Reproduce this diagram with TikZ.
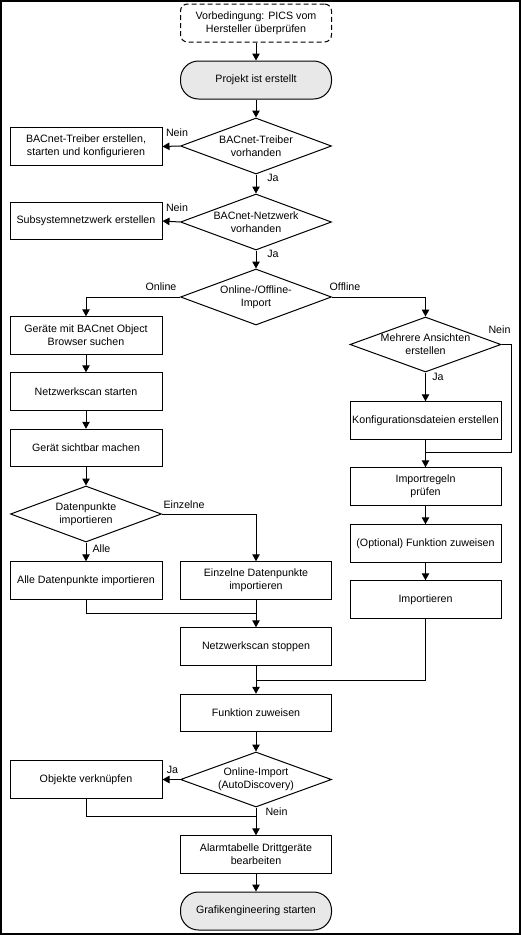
\documentclass[tikz,border=0pt]{standalone}
\usepackage{fontspec}
\setmainfont{Liberation Sans}
\usetikzlibrary{shapes.geometric,arrows.meta}
\definecolor{termgray}{RGB}{232,232,232}
\begin{document}
\begin{tikzpicture}[x=1pt,y=-1pt,
  font=\fontsize{10.67}{13}\selectfont,
  line width=1pt,
  >={Triangle[width=7.5pt,length=7pt]},
  box/.style={draw,rectangle,minimum width=152pt,minimum height=37.5pt,align=center,inner sep=0pt},
  mbox/.style={box,minimum width=151pt},
  dia/.style={draw,diamond,minimum width=151pt,minimum height=56pt,inner sep=0pt},
  txt/.style={align=center,inner sep=0pt},
  lab/.style={inner sep=0pt},
  term/.style={draw,rectangle,rounded corners=18pt,fill=termgray,minimum width=151pt,minimum height=38pt,inner sep=0pt},
  prebox/.style={draw,rectangle,dash pattern=on 5pt off 3pt,rounded corners=7pt,minimum width=151pt,minimum height=38pt,align=center,inner sep=0pt}
]
\useasboundingbox (0,0) rectangle (521,935);
\draw[line width=2pt] (1,1) rectangle (520,934);

% middle column
\node[prebox] (pre) at (256,23) {Vorbedingung: PICS vom\\Hersteller überprüfen};
\node[term] (start) at (256,80) {Projekt ist erstellt};
\node[dia] (d1) at (256,146) {};
\node[txt] (d1t) at (256,146) {BACnet-Treiber\\vorhanden};
\node[dia] (d2) at (256,222) {};
\node[txt] (d2t) at (256,222) {BACnet-Netzwerk\\vorhanden};
\node[dia] (d3) at (256,297) {};
\node[txt] (d3t) at (256,297) {Online-/Offline-\\Import};

% left column
\node[box] (treib) at (86,146.5) {BACnet-Treiber erstellen,\\starten und konfigurieren};
\node[box] (sub) at (86,221) {Subsystemnetzwerk erstellen};
\node[box] (ger) at (86,335.5) {Geräte mit BACnet Object\\Browser suchen};
\node[box] (scan) at (86,391.5) {Netzwerkscan starten};
\node[box] (sicht) at (86,448) {Gerät sichtbar machen};
\node[dia] (d5) at (86,514) {};
\node[txt] (d5t) at (86,514) {Datenpunkte\\importieren};
\node[box] (alle) at (86,580.5) {Alle Datenpunkte importieren};
\node[mbox] (einz) at (256,580.5) {Einzelne Datenpunkte\\importieren};
\node[mbox] (stop) at (256,646.5) {Netzwerkscan stoppen};
\node[mbox] (funk) at (256,713) {Funktion zuweisen};
\node[dia,minimum height=55pt] (d6) at (256,779.5) {};
\node[txt] (d6t) at (256,779.5) {Online-Import\\(AutoDiscovery)};
\node[box] (obj) at (86,779.5) {Objekte verknüpfen};
\node[mbox] (alarm) at (256,854.5) {Alarmtabelle Drittgeräte\\bearbeiten};
\node[term] (end) at (256,911) {Grafikengineering starten};

% right column
\node[dia,minimum height=55pt] (d4) at (425.5,344.5) {};
\node[txt] (d4t) at (425.5,344.5) {Mehrere Ansichten\\erstellen};
\node[mbox] (konf) at (425.5,420.5) {Konfigurationsdateien erstellen};
\node[mbox] (impr) at (425.5,486.5) {Importregeln\\prüfen};
\node[mbox] (opt) at (425.5,543.5) {(Optional) Funktion zuweisen};
\node[mbox] (imp) at (425.5,599.5) {Importieren};

\coordinate (j1) at (256,613);
\coordinate (j2) at (256,680);
\coordinate (j3) at (256,816);
\coordinate (j4) at (425.5,452);
\coordinate (c4) at (511,344.5);

% connectors
\draw[->] (pre.south) -- (start.north);
\draw[->] (start.south) -- (d1.north);
\draw[->] (d1.west) -- (treib.east);
\draw[->] (d1.south) -- (d2.north);
\draw[->] (d2.west) -- (sub.east);
\draw[->] (d2.south) -- (d3.north);
\draw[->] (d3.west) -| (ger.north);
\draw[->] (d3.east) -| (d4.north);
\draw[->] (ger.south) -- (scan.north);
\draw[->] (scan.south) -- (sicht.north);
\draw[->] (sicht.south) -- (d5.north);
\draw[->] (d5.south) -- (alle.north);
\draw[->] (d5.east) -| (einz.north);
\draw (alle.south) |- (j1);
\draw[->] (einz.south) -- (stop.north);
\draw[->] (stop.south) -- (funk.north);
\draw (imp.south) |- (j2);
\draw[->] (funk.south) -- (d6.north);
\draw[->] (d6.west) -- (obj.east);
\draw (obj.south) |- (j3);
\draw[->] (d6.south) -- (alarm.north);
\draw[->] (alarm.south) -- (end.north);
\draw[->] (d4.south) -- (konf.north);
\draw (d4.east) -- (c4) |- (j4);
\draw (konf.south) -- (j4);
\draw[->] (j4) -- (impr.north);
\draw[->] (impr.south) -- (opt.north);
\draw[->] (opt.south) -- (imp.north);

% labels
\node[lab] (l1) at (177,132.5) {Nein};
\node[lab] (l2) at (273,178) {Ja};
\node[lab] (l3) at (177,208) {Nein};
\node[lab] (l4) at (273,254) {Ja};
\node[lab] (l5) at (161,287) {Online};
\node[lab] (l6) at (345,287) {Offline};
\node[lab] (l7) at (499.5,330) {Nein};
\node[lab] (l8) at (438,377) {Ja};
\node[lab] (l9) at (184,505) {Einzelne};
\node[lab] (l10) at (101.5,549) {Alle};
\node[lab] (l11) at (172.5,770) {Ja};
\node[lab] (l12) at (276.5,812) {Nein};
\end{tikzpicture}
\end{document}
